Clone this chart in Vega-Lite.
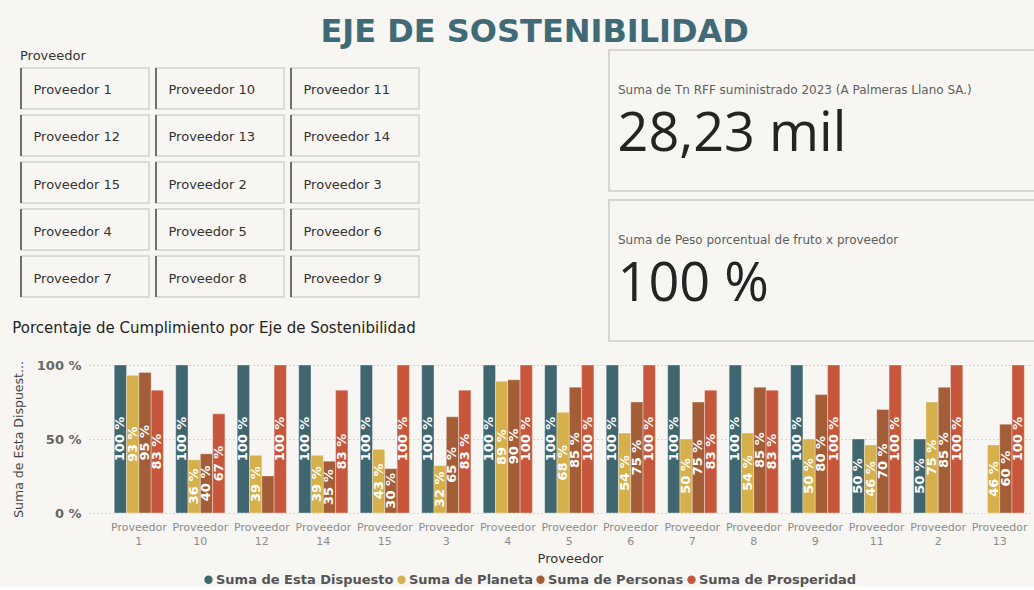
{
  "$schema": "https://vega.github.io/schema/vega-lite/v6.json",
  "background": "#f7f6f2",
  "padding": {"left": 12, "top": 16, "right": 0, "bottom": 0},
  "title": {"text": "EJE DE SOSTENIBILIDAD", "anchor": "middle", "fontSize": 32, "font": "DejaVu Sans", "fontWeight": "bold", "color": "#3f6a76", "offset": 0, "dx": 10},
  "spacing": -21,
  "vconcat": [
    {
      "spacing": 188,
      "hconcat": [
        {
          "data": {"values": [
            {"proveedor": "Proveedor 1", "fila": 1, "columna": 1}, {"proveedor": "Proveedor 10", "fila": 1, "columna": 2}, {"proveedor": "Proveedor 11", "fila": 1, "columna": 3},
            {"proveedor": "Proveedor 12", "fila": 2, "columna": 1}, {"proveedor": "Proveedor 13", "fila": 2, "columna": 2}, {"proveedor": "Proveedor 14", "fila": 2, "columna": 3},
            {"proveedor": "Proveedor 15", "fila": 3, "columna": 1}, {"proveedor": "Proveedor 2", "fila": 3, "columna": 2}, {"proveedor": "Proveedor 3", "fila": 3, "columna": 3},
            {"proveedor": "Proveedor 4", "fila": 4, "columna": 1}, {"proveedor": "Proveedor 5", "fila": 4, "columna": 2}, {"proveedor": "Proveedor 6", "fila": 4, "columna": 3},
            {"proveedor": "Proveedor 7", "fila": 5, "columna": 1}, {"proveedor": "Proveedor 8", "fila": 5, "columna": 2}, {"proveedor": "Proveedor 9", "fila": 5, "columna": 3}
          ]},
          "title": {"text": "Proveedor", "anchor": "start", "frame": "bounds", "fontSize": 13, "fontWeight": "normal", "color": "#333333", "offset": -13},
          "width": 398,
          "height": 247,
          "encoding": {
            "x": {"field": "columna", "type": "ordinal", "axis": null, "scale": {"paddingInner": 0.052, "paddingOuter": 0}},
            "y": {"field": "fila", "type": "ordinal", "axis": null, "scale": {"range": [18, 247], "paddingInner": 0.128, "paddingOuter": 0}}
          },
          "layer": [
            {"mark": {"type": "rect", "fill": "#f7f6f2", "stroke": "#d3d1cc", "strokeWidth": 1.5}},
            {"mark": {"type": "tick", "orient": "vertical", "color": "#6e6e6e", "thickness": 2, "size": 41, "opacity": 1}, "encoding": {"x": {"field": "columna", "type": "ordinal", "bandPosition": 0, "axis": null}}},
            {"mark": {"type": "text", "align": "left", "baseline": "middle", "dx": 12.5, "dy": 2, "fontSize": 13, "color": "#333333"}, "encoding": {"x": {"field": "columna", "type": "ordinal", "bandPosition": 0, "axis": null}, "text": {"field": "proveedor"}}}
          ]
        },
        {
          "data": {"values": [
            {"titulo": "Suma de Tn RFF suministrado 2023 (A Palmeras Llano SA.)", "valor": "28,23 mil"},
            {"titulo": "Suma de Peso porcentual de fruto x proveedor", "valor": "100 %"}
          ]},
          "width": 427,
          "height": 291,
          "encoding": {
            "y": {"field": "titulo", "type": "nominal", "axis": null, "sort": ["Suma de Tn RFF suministrado 2023 (A Palmeras Llano SA.)", "Suma de Peso porcentual de fruto x proveedor"], "scale": {"paddingInner": 0.06, "paddingOuter": 0}}
          },
          "layer": [
            {"mark": {"type": "rect", "fill": "#f7f6f2", "stroke": "#d8d6d1", "strokeWidth": 2}},
            {"mark": {"type": "text", "align": "left", "baseline": "middle", "dx": -204.5, "fontSize": 12, "color": "#605e5c"}, "encoding": {"y": {"field": "titulo", "type": "nominal", "axis": null, "sort": ["Suma de Tn RFF suministrado 2023 (A Palmeras Llano SA.)", "Suma de Peso porcentual de fruto x proveedor"], "bandPosition": 0.284}, "text": {"field": "titulo"}}},
            {"mark": {"type": "text", "align": "left", "baseline": "alphabetic", "dx": -205, "fontSize": 54, "font": "Open Sans", "color": "#252423"}, "encoding": {"y": {"field": "titulo", "type": "nominal", "axis": null, "sort": ["Suma de Tn RFF suministrado 2023 (A Palmeras Llano SA.)", "Suma de Peso porcentual de fruto x proveedor"], "bandPosition": 0.715}, "text": {"field": "valor"}}}
          ]
        }
      ]
    },
    {
      "data": {"values": [
        {"proveedor": "Proveedor 1", "serie": "Suma de Esta Dispuesto", "valor": 100},
        {"proveedor": "Proveedor 1", "serie": "Suma de Planeta", "valor": 93},
        {"proveedor": "Proveedor 1", "serie": "Suma de Personas", "valor": 95},
        {"proveedor": "Proveedor 1", "serie": "Suma de Prosperidad", "valor": 83},
        {"proveedor": "Proveedor 10", "serie": "Suma de Esta Dispuesto", "valor": 100},
        {"proveedor": "Proveedor 10", "serie": "Suma de Planeta", "valor": 36},
        {"proveedor": "Proveedor 10", "serie": "Suma de Personas", "valor": 40},
        {"proveedor": "Proveedor 10", "serie": "Suma de Prosperidad", "valor": 67},
        {"proveedor": "Proveedor 12", "serie": "Suma de Esta Dispuesto", "valor": 100},
        {"proveedor": "Proveedor 12", "serie": "Suma de Planeta", "valor": 39},
        {"proveedor": "Proveedor 12", "serie": "Suma de Personas", "valor": 25},
        {"proveedor": "Proveedor 12", "serie": "Suma de Prosperidad", "valor": 100},
        {"proveedor": "Proveedor 14", "serie": "Suma de Esta Dispuesto", "valor": 100},
        {"proveedor": "Proveedor 14", "serie": "Suma de Planeta", "valor": 39},
        {"proveedor": "Proveedor 14", "serie": "Suma de Personas", "valor": 35},
        {"proveedor": "Proveedor 14", "serie": "Suma de Prosperidad", "valor": 83},
        {"proveedor": "Proveedor 15", "serie": "Suma de Esta Dispuesto", "valor": 100},
        {"proveedor": "Proveedor 15", "serie": "Suma de Planeta", "valor": 43},
        {"proveedor": "Proveedor 15", "serie": "Suma de Personas", "valor": 30},
        {"proveedor": "Proveedor 15", "serie": "Suma de Prosperidad", "valor": 100},
        {"proveedor": "Proveedor 3", "serie": "Suma de Esta Dispuesto", "valor": 100},
        {"proveedor": "Proveedor 3", "serie": "Suma de Planeta", "valor": 32},
        {"proveedor": "Proveedor 3", "serie": "Suma de Personas", "valor": 65},
        {"proveedor": "Proveedor 3", "serie": "Suma de Prosperidad", "valor": 83},
        {"proveedor": "Proveedor 4", "serie": "Suma de Esta Dispuesto", "valor": 100},
        {"proveedor": "Proveedor 4", "serie": "Suma de Planeta", "valor": 89},
        {"proveedor": "Proveedor 4", "serie": "Suma de Personas", "valor": 90},
        {"proveedor": "Proveedor 4", "serie": "Suma de Prosperidad", "valor": 100},
        {"proveedor": "Proveedor 5", "serie": "Suma de Esta Dispuesto", "valor": 100},
        {"proveedor": "Proveedor 5", "serie": "Suma de Planeta", "valor": 68},
        {"proveedor": "Proveedor 5", "serie": "Suma de Personas", "valor": 85},
        {"proveedor": "Proveedor 5", "serie": "Suma de Prosperidad", "valor": 100},
        {"proveedor": "Proveedor 6", "serie": "Suma de Esta Dispuesto", "valor": 100},
        {"proveedor": "Proveedor 6", "serie": "Suma de Planeta", "valor": 54},
        {"proveedor": "Proveedor 6", "serie": "Suma de Personas", "valor": 75},
        {"proveedor": "Proveedor 6", "serie": "Suma de Prosperidad", "valor": 100},
        {"proveedor": "Proveedor 7", "serie": "Suma de Esta Dispuesto", "valor": 100},
        {"proveedor": "Proveedor 7", "serie": "Suma de Planeta", "valor": 50},
        {"proveedor": "Proveedor 7", "serie": "Suma de Personas", "valor": 75},
        {"proveedor": "Proveedor 7", "serie": "Suma de Prosperidad", "valor": 83},
        {"proveedor": "Proveedor 8", "serie": "Suma de Esta Dispuesto", "valor": 100},
        {"proveedor": "Proveedor 8", "serie": "Suma de Planeta", "valor": 54},
        {"proveedor": "Proveedor 8", "serie": "Suma de Personas", "valor": 85},
        {"proveedor": "Proveedor 8", "serie": "Suma de Prosperidad", "valor": 83},
        {"proveedor": "Proveedor 9", "serie": "Suma de Esta Dispuesto", "valor": 100},
        {"proveedor": "Proveedor 9", "serie": "Suma de Planeta", "valor": 50},
        {"proveedor": "Proveedor 9", "serie": "Suma de Personas", "valor": 80},
        {"proveedor": "Proveedor 9", "serie": "Suma de Prosperidad", "valor": 100},
        {"proveedor": "Proveedor 11", "serie": "Suma de Esta Dispuesto", "valor": 50},
        {"proveedor": "Proveedor 11", "serie": "Suma de Planeta", "valor": 46},
        {"proveedor": "Proveedor 11", "serie": "Suma de Personas", "valor": 70},
        {"proveedor": "Proveedor 11", "serie": "Suma de Prosperidad", "valor": 100},
        {"proveedor": "Proveedor 2", "serie": "Suma de Esta Dispuesto", "valor": 50},
        {"proveedor": "Proveedor 2", "serie": "Suma de Planeta", "valor": 75},
        {"proveedor": "Proveedor 2", "serie": "Suma de Personas", "valor": 85},
        {"proveedor": "Proveedor 2", "serie": "Suma de Prosperidad", "valor": 100},
        {"proveedor": "Proveedor 13", "serie": "Suma de Esta Dispuesto", "valor": 0},
        {"proveedor": "Proveedor 13", "serie": "Suma de Planeta", "valor": 46},
        {"proveedor": "Proveedor 13", "serie": "Suma de Personas", "valor": 60},
        {"proveedor": "Proveedor 13", "serie": "Suma de Prosperidad", "valor": 100}
      ]},
      "width": 1012,
      "height": 148,
      "title": {"text": "Porcentaje de Cumplimiento por Eje de Sostenibilidad", "anchor": "start", "frame": "bounds", "fontSize": 15, "fontWeight": "normal", "color": "#252423", "offset": 23},
      "encoding": {
        "x": {
          "field": "proveedor", "type": "nominal", "title": "Proveedor",
          "sort": ["Proveedor 1", "Proveedor 10", "Proveedor 12", "Proveedor 14", "Proveedor 15", "Proveedor 3", "Proveedor 4", "Proveedor 5", "Proveedor 6", "Proveedor 7", "Proveedor 8", "Proveedor 9", "Proveedor 11", "Proveedor 2", "Proveedor 13"],
          "scale": {"range": [68, 1012], "paddingInner": 0.2, "paddingOuter": 0.276, "align": 0.744},
          "axis": {"labelAngle": 0, "labelExpr": "split(datum.label, ' ')", "labelFontSize": 11, "labelColor": "#8c8c8c", "labelLineHeight": 14, "labelPadding": 8, "domain": false, "ticks": false, "titleFontSize": 13, "titleFontWeight": "normal", "titleColor": "#333333", "titlePadding": 6, "titleX": 549}
        },
        "xOffset": {
          "field": "serie", "type": "nominal",
          "sort": ["Suma de Esta Dispuesto", "Suma de Planeta", "Suma de Personas", "Suma de Prosperidad"],
          "scale": {"paddingInner": 0}
        },
        "color": {
          "field": "serie", "type": "nominal",
          "sort": ["Suma de Esta Dispuesto", "Suma de Planeta", "Suma de Personas", "Suma de Prosperidad"],
          "scale": {"domain": ["Suma de Esta Dispuesto", "Suma de Planeta", "Suma de Personas", "Suma de Prosperidad"], "range": ["#40666f", "#d5b04b", "#a35d37", "#c7573c"]},
          "legend": {"orient": "none", "legendX": 181, "legendY": 523, "direction": "horizontal", "columns": 4, "title": null, "symbolType": "circle", "symbolSize": 70, "symbolStrokeWidth": 0, "labelFontSize": 13, "labelFontWeight": "bold", "labelColor": "#555555", "labelOffset": 1, "columnPadding": 1, "labelLimit": 300}
        }
      },
      "layer": [
        {
          "mark": {"type": "bar", "stroke": "#ffffff", "strokeOpacity": 0.35, "strokeWidth": 1},
          "encoding": {
            "y": {
              "field": "valor", "type": "quantitative", "title": "Suma de Esta Dispuest...",
              "scale": {"domain": [0, 100], "nice": false},
              "axis": {"offset": -68, "values": [0, 50, 100], "labelExpr": "datum.value + ' %'", "labelFontSize": 13, "labelFontWeight": "bold", "labelColor": "#666666", "labelPadding": 8, "domain": false, "ticks": false, "grid": true, "gridDash": [1, 3], "gridColor": "#b5b5b5", "gridWidth": 1, "titleFontSize": 12.5, "titleFontWeight": "normal", "titleColor": "#444444", "titlePadding": 11}
            }
          }
        },
        {
          "transform": [{"filter": "datum.valor >= 30"}],
          "mark": {"type": "text", "angle": 270, "align": "center", "baseline": "middle", "fontSize": 13, "fontWeight": "bold", "text": {"expr": "datum.valor + ' %'"}},
          "encoding": {
            "y": {"field": "valor", "type": "quantitative", "scale": {"domain": [0, 200], "nice": false}, "axis": null},
            "color": {"value": "#ffffff"}
          }
        }
      ],
      "resolve": {"scale": {"y": "independent"}}
    }
  ],
  "config": {
    "font": "DejaVu Sans",
    "view": {"stroke": null}
  }
}
